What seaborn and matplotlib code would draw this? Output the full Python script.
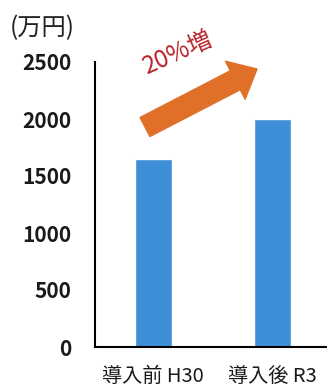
import matplotlib
matplotlib.use("Agg")
import matplotlib.pyplot as plt
import seaborn as sns
import pandas as pd

categories = ["導入前 H30", "導入後 R3"]
values = [1650, 2000]
yticks = [0, 500, 1000, 1500, 2000, 2500]
unit_label = "(万円)"
arrow_label = "20%増"

sns.set_theme(style="white")
plt.rcParams['font.family'] = ['Noto Sans CJK JP', 'DejaVu Sans']

fig = plt.figure(figsize=(3.27, 3.87), dpi=100)
ax = fig.add_axes([95/327, 1-347/387, 1-95/327, (347-62)/387])

df = pd.DataFrame({"cat": categories, "val": values})
sns.barplot(data=df, x="cat", y="val", color="#3E8ED8", saturation=1,
            width=0.31, ax=ax)
ax.set_xlim(-0.49, 1.46)
ax.set_ylim(0, 2500)
ax.set_yticks(yticks)
ax.set_yticklabels([str(t) for t in yticks], fontsize=15, fontweight='bold',
                   color='#1a1a1a')
ax.set_xlabel("")
ax.set_ylabel("")
ax.tick_params(axis='y', length=0, pad=17)
ax.tick_params(axis='x', length=0, pad=14, labelsize=14.5)
for lbl in ax.get_xticklabels():
    lbl.set_color('#1a1a1a')
for s in ["top", "right"]:
    ax.spines[s].set_visible(False)
for s in ["left", "bottom"]:
    ax.spines[s].set_color("black")
    ax.spines[s].set_linewidth(1.5)

fig.text(10/327, 1-28/387, unit_label, fontsize=17.5, va='center', ha='left',
         color='#222222')

ax.annotate("", xy=(257, 387-69), xytext=(145, 387-127),
            xycoords='figure pixels', textcoords='figure pixels',
            arrowprops=dict(arrowstyle="simple,head_width=2.8,head_length=1.6,tail_width=1.4",
                            mutation_scale=11, color="#E07028", shrinkA=0, shrinkB=0))
fig.text(178/327, 1-53/387, arrow_label, fontsize=17.5, color="#B8232A",
         rotation=24, ha='center', va='center')

fig.savefig("out.png", dpi=100)
